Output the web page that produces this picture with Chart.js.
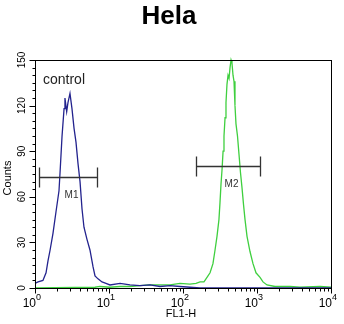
<!DOCTYPE html>
<html>
<head>
<meta charset="utf-8">
<script src="https://cdn.jsdelivr.net/npm/chart.js@4/dist/chart.umd.min.js"></script>
<style>
  body { margin: 0; background: #fff; }
  canvas { display: block; }
</style>
</head>
<body>
<canvas id="myChart" width="344" height="324"></canvas>
<script>
// control (blue) histogram: FL1-H value, counts
const controlFL1 = [1.00, 1.10, 1.28, 1.41, 1.50, 1.60, 1.75, 1.92, 2.11, 2.18,
  2.32, 2.47, 2.54, 2.68, 2.79, 2.97, 3.16, 3.37, 3.58, 3.81,
  4.06, 4.32, 4.59, 5.04, 5.53, 6.08, 6.47, 7.10, 8.04, 9.10,
  10.3, 14.1, 19.2, 26.2, 35.8, 48.9, 66.7, 91, 124, 170,
  300, 1000, 10000];
const controlCounts = [3, 4, 5, 10, 18, 25, 36, 50, 64, 76,
  100, 118, 125, 116, 122, 128, 118, 105, 96, 82,
  70, 52, 40, 32, 25, 14, 8, 6, 4, 3,
  2, 3, 2, 1.5, 2, 1, 1.5, 1, 0.5, 0,
  0, 0, 0];

// sample (green) histogram
const sampleFL1 = [1, 6.47, 7.55, 10.3, 14.1, 19.2, 26.2, 35.8, 48.9, 66.7,
  91, 124, 150, 170, 192, 211, 232, 254, 271, 288,
  306, 316, 326, 337, 348, 358, 370, 381, 393, 406,
  419, 432, 446, 459, 474, 489, 504, 520, 545, 571,
  598, 627, 657, 689, 733, 804, 883, 969, 1099, 1205,
  1365, 1750, 2790, 3810, 7100, 10000];
const sampleCounts = [0, 0.5, 1, 0.5, 1, 1, 1.5, 2, 2, 2,
  3, 2.5, 3, 4, 4, 7, 10, 16, 25, 34,
  45, 56, 68, 78, 90, 100, 112, 122, 134, 140,
  138, 145, 150, 148, 140, 136, 120, 108, 100, 88,
  76, 66, 55, 45, 34, 24, 16, 10, 7, 4,
  2, 1, 1, 0.5, 1, 0.5];

// gates
const gateNames = ['M1', 'M2'];
const gateFrom = [1.13, 148];
const gateTo = [6.95, 1096];
const gateLevel = [73, 80];

// axes
const decades = [1, 10, 100, 1000, 10000];
const decadeExp = ['0', '1', '2', '3', '4'];
const minorMult = [2, 3, 4, 5, 6, 7, 8, 9];
const yLabels = [0, 30, 60, 90, 120, 150];
const yStep = 5;

const FONT = "'Liberation Sans', Arial, sans-serif";

const toPoints = (xs, ys) => xs.map((x, i) => ({ x, y: ys[i] }));

const decor = {
  id: 'decor',
  afterDraw(chart) {
    const { ctx, chartArea: a, scales: { x, y } } = chart;
    ctx.save();
    ctx.strokeStyle = '#000';
    ctx.fillStyle = '#000';
    ctx.lineWidth = 1;
    const L = Math.round(a.left) + 0.5, R = Math.round(a.right) + 0.5;
    const T = Math.round(a.top) + 0.5, B = Math.round(a.bottom) + 0.5;
    ctx.strokeRect(L, T, R - L, B - T);

    // y ticks
    ctx.beginPath();
    for (let v = 0; v <= 150; v += yStep) {
      const py = Math.round(y.getPixelForValue(v)) + 0.5;
      const len = yLabels.includes(v) ? 6 : 3;
      ctx.moveTo(L - len, py);
      ctx.lineTo(L, py);
    }
    // x ticks
    decades.forEach((d, i) => {
      const px = Math.round(x.getPixelForValue(d)) + 0.5;
      ctx.moveTo(px, B);
      ctx.lineTo(px, B + 5);
      if (i < decades.length - 1) {
        minorMult.forEach(m => {
          const mx = Math.round(x.getPixelForValue(d * m)) + 0.5;
          ctx.moveTo(mx, B);
          ctx.lineTo(mx, B + 3);
        });
      }
    });
    ctx.stroke();

    // y labels, rotated
    ctx.font = '10px ' + FONT;
    ctx.textAlign = 'center';
    ctx.textBaseline = 'middle';
    yLabels.forEach(v => {
      const py = y.getPixelForValue(v);
      ctx.save();
      ctx.translate(22, py);
      ctx.rotate(-Math.PI / 2);
      ctx.fillText(String(v), 0, 0);
      ctx.restore();
    });

    // x labels 10^n
    decades.forEach((d, i) => {
      const px = x.getPixelForValue(d);
      ctx.font = '12px ' + FONT;
      ctx.textAlign = 'right';
      ctx.textBaseline = 'alphabetic';
      ctx.fillText('10', px + 1, 307);
      ctx.font = '9px ' + FONT;
      ctx.textAlign = 'left';
      ctx.fillText(decadeExp[i], px + 1, 300);
    });

    // axis titles
    ctx.font = '11px ' + FONT;
    ctx.textAlign = 'center';
    ctx.textBaseline = 'middle';
    ctx.fillText('FL1-H', 181, 314);
    ctx.save();
    ctx.translate(8, 178);
    ctx.rotate(-Math.PI / 2);
    ctx.fillText('Counts', 0, 0);
    ctx.restore();

    // title
    ctx.font = 'bold 26px ' + FONT;
    ctx.fillText('Hela', 169, 17);

    // control label
    ctx.font = '14px ' + FONT;
    ctx.textAlign = 'left';
    ctx.fillStyle = '#222';
    ctx.fillText('control', 43, 80);

    // gates
    ctx.strokeStyle = '#333';
    ctx.fillStyle = '#333';
    gateNames.forEach((name, i) => {
      const x1 = Math.round(x.getPixelForValue(gateFrom[i])) + 0.5;
      const x2 = Math.round(x.getPixelForValue(gateTo[i])) + 0.5;
      const py = Math.round(y.getPixelForValue(gateLevel[i])) + 0.5;
      ctx.lineWidth = 1.3;
      ctx.beginPath();
      ctx.moveTo(x1, py); ctx.lineTo(x2, py);
      ctx.moveTo(x1, py - 10); ctx.lineTo(x1, py + 10);
      ctx.moveTo(x2, py - 10); ctx.lineTo(x2, py + 10);
      ctx.stroke();
      ctx.font = '10px ' + FONT;
      ctx.textAlign = 'center';
      ctx.fillText(name, (x1 + x2) / 2 + 3, py + 18);
    });
    ctx.restore();
  }
};

const config = {
  type: 'line',
  data: {
    datasets: [
      {
        label: 'control',
        data: toPoints(controlFL1, controlCounts),
        borderColor: '#23238e',
        borderWidth: 1.3,
        pointRadius: 0,
        fill: false,
        tension: 0,
        clip: false,
      },
      {
        label: 'Hela',
        data: toPoints(sampleFL1, sampleCounts),
        borderColor: '#3fcf3f',
        borderWidth: 1.3,
        pointRadius: 0,
        fill: false,
        tension: 0,
        clip: false,
      },
    ],
  },
  options: {
    responsive: false,
    animation: false,
    layout: { padding: { left: 0, right: 13, top: 60, bottom: 0 } },
    plugins: { legend: { display: false }, tooltip: { enabled: false }, title: { display: false } },
    scales: {
      x: {
        type: 'logarithmic',
        min: 1,
        max: 10000,
        ticks: { display: false },
        grid: { display: false },
        border: { display: false },
        afterFit: s => { s.height = 36; },
      },
      y: {
        min: 0,
        max: 150,
        ticks: { display: false },
        grid: { display: false },
        border: { display: false },
        afterFit: s => { s.width = 35; },
      },
    },
  },
  plugins: [decor],
};

const ctx = document.getElementById('myChart').getContext('2d');
const myChart = new Chart(ctx, config);
</script>
</body>
</html>
